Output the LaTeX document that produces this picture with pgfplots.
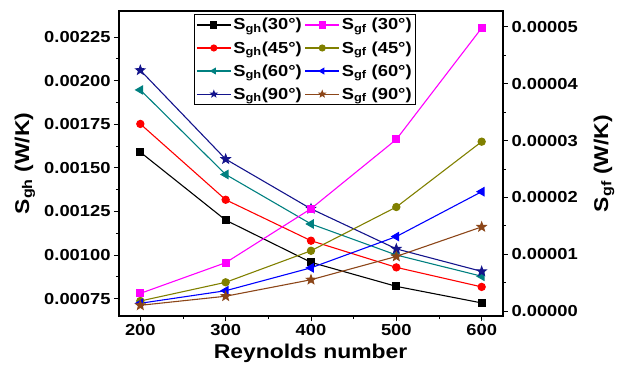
\documentclass[border=0pt]{standalone}
\usepackage{fontspec}
\setmainfont{Liberation Sans}[FakeStretch=1.15]
\usepackage{pgfplots}
\pgfplotsset{compat=1.18}

% filled five-pointed star mark
\pgfdeclareplotmark{fstar}{%
  \pgfpathmoveto{\pgfpointpolar{90}{\pgfplotmarksize}}%
  \pgfpathlineto{\pgfpointpolar{126}{0.42\pgfplotmarksize}}%
  \pgfpathlineto{\pgfpointpolar{162}{\pgfplotmarksize}}%
  \pgfpathlineto{\pgfpointpolar{198}{0.42\pgfplotmarksize}}%
  \pgfpathlineto{\pgfpointpolar{234}{\pgfplotmarksize}}%
  \pgfpathlineto{\pgfpointpolar{270}{0.42\pgfplotmarksize}}%
  \pgfpathlineto{\pgfpointpolar{306}{\pgfplotmarksize}}%
  \pgfpathlineto{\pgfpointpolar{342}{0.42\pgfplotmarksize}}%
  \pgfpathlineto{\pgfpointpolar{18}{\pgfplotmarksize}}%
  \pgfpathlineto{\pgfpointpolar{54}{0.42\pgfplotmarksize}}%
  \pgfpathclose
  \pgfusepathqfillstroke}

\definecolor{cblack}{RGB}{0,0,0}
\definecolor{cred}{RGB}{255,0,0}
\definecolor{cmag}{RGB}{255,0,255}
\definecolor{cblue}{RGB}{0,0,255}
\definecolor{cteal}{RGB}{0,128,128}
\definecolor{cnavy}{RGB}{20,20,140}
\definecolor{colive}{RGB}{128,128,0}
\definecolor{cbrown}{RGB}{140,70,25}

\pgfplotsset{
  sq/.style={mark=square*, mark size=3.5bp},
  ci/.style={mark=*, mark size=3.6bp},
  tr/.style={mark=triangle*, mark size=4.6bp, mark options={rotate=90}},
  st/.style={mark=fstar, mark size=4.6bp},
  gh30/.style={cblack, line width=1.1pt, sq},
  gh45/.style={cred, line width=1.1pt, ci},
  gh60/.style={cteal, line width=1.1pt, tr},
  gh90/.style={cnavy, line width=1.1pt, st},
  gf30/.style={cmag, line width=1.1pt, sq},
  gf45/.style={colive, line width=1.1pt, ci},
  gf60/.style={cblue, line width=1.1pt, tr},
  gf90/.style={cbrown, line width=1.1pt, st},
  common/.style={
    scale only axis, width=384bp, height=305bp,
    xmin=175, xmax=625,
    tick align=outside,
    major tick length=5bp, minor tick length=3bp,
    every tick/.style={black, line width=0.9pt},
    axis line style={line width=1.1pt},
    tick label style={font=\fontsize{16}{16}\selectfont\bfseries},
    label style={font=\fontsize{20}{20}\selectfont\bfseries},
    /pgf/number format/assume math mode=true,
  },
}

\begin{document}
\begin{tikzpicture}
\path[use as bounding box] (-119bp,-51bp) rectangle (500bp,316bp);

% entropy generation by heat transfer, left axis
\begin{axis}[common,
  xtick={200,300,400,500,600}, minor x tick num=1,
  xtick pos=bottom,
  ymin=0.00065, ymax=0.0024,
  ytick={0.00075,0.001,0.00125,0.0015,0.00175,0.002,0.00225},
  minor y tick num=1,
  ytick pos=left,
  scaled y ticks=false,
  yticklabel style={/pgf/number format/.cd, fixed, fixed zerofill, precision=5},
  xlabel={Reynolds number},
  ylabel={S\textsubscript{gh} (W/K)},
  xlabel style={at={(axis description cs:0.499,-0.121)}, anchor=center},
  ylabel style={at={(axis description cs:-0.245,0.5)}, anchor=center, rotate=0},
]
\addplot[gh30] coordinates {(200,0.00159) (300,0.00120) (400,0.000958) (500,0.00082) (600,0.000725)};
\addplot[gh45] coordinates {(200,0.001752) (300,0.001317) (400,0.001082) (500,0.000929) (600,0.000817)};
\addplot[gh60] coordinates {(200,0.001947) (300,0.001462) (400,0.001178) (500,0.00100) (600,0.000878)};
\addplot[gh90] coordinates {(200,0.00206) (300,0.00155) (400,0.001265) (500,0.001035) (600,0.000906)};
\end{axis}

% entropy generation by fluid friction, right axis
\begin{axis}[common,
  axis x line=none,
  axis y line*=right,
  ymin=-0.00000088, ymax=0.0000528,
  ytick={0,0.00001,0.00002,0.00003,0.00004,0.00005},
  minor y tick num=1,
  scaled y ticks=false,
  yticklabel style={/pgf/number format/.cd, fixed, fixed zerofill, precision=5},
  ylabel={S\textsubscript{gf} (W/K)},
  ylabel style={at={(axis description cs:1.263,0.5)}, anchor=center, rotate=0},
  legend columns=2,
  legend cell align=left,
  legend style={at={(axis description cs:0.195,0.99)}, anchor=north west,
    font=\fontsize{16}{16}\selectfont\bfseries,
    draw=black, line width=0.8pt, inner sep=2bp, row sep=6bp,
    /tikz/every even column/.append style={column sep=1bp}},
  legend image code/.code={%
    \draw[mark repeat=2, mark phase=2, mark size=3bp]
      plot coordinates {(0bp,0bp) (17bp,0bp) (34bp,0bp)};},
]
\addlegendimage{gh30}\addlegendentry{S\textsubscript{gh}(30°)}
\addplot[gf30] coordinates {(200,0.0000031) (300,0.0000085) (400,0.0000180) (500,0.0000302) (600,0.0000498)};
\addlegendentry{S\textsubscript{gf} (30°)}
\addlegendimage{gh45}\addlegendentry{S\textsubscript{gh}(45°)}
\addplot[gf45] coordinates {(200,0.00000176) (300,0.00000505) (400,0.0000106) (500,0.0000183) (600,0.0000298)};
\addlegendentry{S\textsubscript{gf} (45°)}
\addlegendimage{gh60}\addlegendentry{S\textsubscript{gh}(60°)}
\addplot[gf60] coordinates {(200,0.00000136) (300,0.00000357) (400,0.0000076) (500,0.0000131) (600,0.0000210)};
\addlegendentry{S\textsubscript{gf} (60°)}
\addlegendimage{gh90}\addlegendentry{S\textsubscript{gh}(90°)}
\addplot[gf90] coordinates {(200,0.0000010) (300,0.0000026) (400,0.0000055) (500,0.0000096) (600,0.0000148)};
\addlegendentry{S\textsubscript{gf} (90°)}
\end{axis}
\end{tikzpicture}
\end{document}
